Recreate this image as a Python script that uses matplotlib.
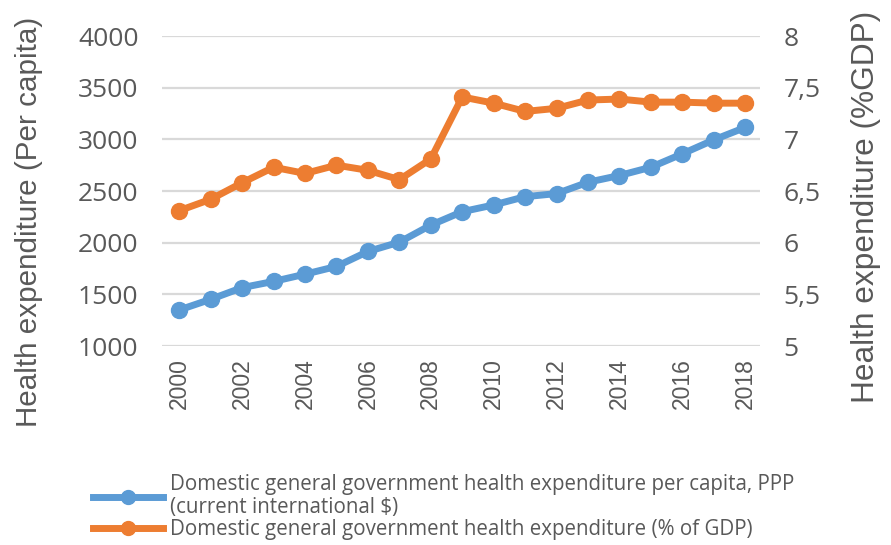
import matplotlib
matplotlib.use("Agg")
import matplotlib.pyplot as plt
from matplotlib.lines import Line2D
from matplotlib.ticker import FixedLocator, FuncFormatter

years = list(range(2000, 2019))
per_capita = [1349, 1452, 1565, 1625, 1695, 1770, 1915, 2005, 2170, 2300,
              2365, 2445, 2475, 2585, 2650, 2730, 2860, 2995, 3115]
pct_gdp = [6.31, 6.42, 6.58, 6.73, 6.67, 6.75, 6.70, 6.61, 6.81, 7.41,
           7.35, 7.27, 7.30, 7.38, 7.39, 7.36, 7.36, 7.35, 7.35]
x_ticks = list(range(2000, 2019, 2))
left_ticks = [1000, 1500, 2000, 2500, 3000, 3500, 4000]
right_ticks = [5, 5.5, 6, 6.5, 7, 7.5, 8]

label_pc = "Domestic general government health expenditure per capita, PPP\n(current international $)"
label_gdp = "Domestic general government health expenditure (% of GDP)"

BLUE = "#5B9BD5"
ORANGE = "#ED7D31"
TXT = "#595959"
GRID = "#D9D9D9"
UI = "Open Sans"

W, H = 891, 545
fig = plt.figure(figsize=(W / 100, H / 100), dpi=100)
ax = fig.add_axes([162 / W, 1 - 346 / H, (760 - 162) / W, (346 - 36) / H])
ax2 = ax.twinx()

ax.set_xlim(1999.45, 2018.47)
ax.set_ylim(1000, 4000)
ax2.set_ylim(5, 8)

ax.yaxis.set_major_locator(FixedLocator(left_ticks))
ax2.yaxis.set_major_locator(FixedLocator(right_ticks))
ax2.yaxis.set_major_formatter(FuncFormatter(lambda v, p: f"{v:g}".replace(".", ",")))
ax.xaxis.set_major_locator(FixedLocator(x_ticks))

ax.grid(axis="y", color=GRID, linewidth=1.6)
ax.set_axisbelow(True)
for a in (ax, ax2):
    for s in a.spines.values():
        s.set_visible(False)

ax.plot(years, per_capita, color=BLUE, lw=5, marker="o", ms=11.5, solid_capstyle="round", zorder=3)
ax2.plot(years, pct_gdp, color=ORANGE, lw=5, marker="o", ms=11.5, solid_capstyle="round", zorder=3)

ax.tick_params(axis="y", length=0, pad=17, labelsize=19, labelcolor=TXT)
ax2.tick_params(axis="y", length=0, pad=17, labelsize=19, labelcolor=TXT)
ax.tick_params(axis="x", length=0, pad=9, labelsize=16.5, labelcolor=TXT, labelrotation=90)
for lab in ax.get_yticklabels() + ax2.get_yticklabels():
    lab.set_fontfamily(UI)
for lab in ax.get_xticklabels():
    lab.set_fontfamily("Liberation Sans")

# axis titles placed in figure pixels
fig.text(29 / W, 1 - 222 / H, "Health expenditure (Per capita)", rotation=90,
         ha="center", va="center", fontsize=21.3, color=TXT, family="Liberation Sans")
fig.text(866 / W, 1 - 207 / H, "Health expenditure (%GDP)", rotation=90,
         ha="center", va="center", fontsize=22.8, color=TXT, family="Liberation Sans")

handles = [
    Line2D([], [], color=BLUE, lw=5, marker="o", ms=10),
    Line2D([], [], color=ORANGE, lw=5, marker="o", ms=10),
]
leg = fig.legend(handles, [label_pc, label_gdp], loc="upper left",
                 bbox_to_anchor=(93 / W, 1 - 474 / H), frameon=False,
                 handlelength=3.4, handletextpad=0.33, labelspacing=0.05,
                 borderaxespad=0, borderpad=0,
                 prop={"family": UI, "size": 14.8})
for t in leg.get_texts():
    t.set_color(TXT)
    t.set_linespacing(1.15)

fig.savefig("out.png", dpi=100)
